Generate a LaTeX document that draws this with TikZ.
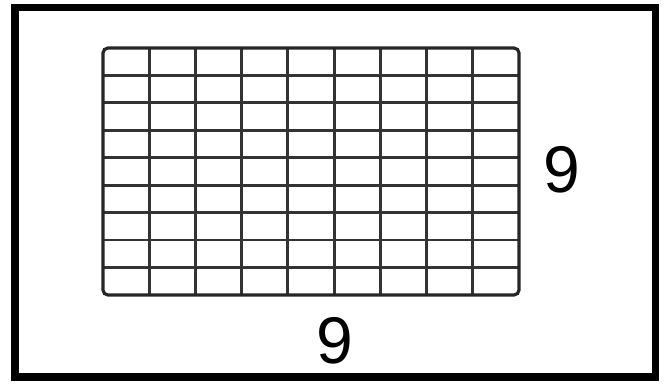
\documentclass[tikz,border=0pt]{standalone}
\usepackage{fontspec}
\setmainfont{Liberation Sans}
\usepackage{tikz}
\usetikzlibrary{positioning}

\begin{document}
\begin{tikzpicture}[x=1pt, y=-1pt, every node/.style={font=\fontsize{66}{66}\selectfont}]
  \useasboundingbox (0,0) rectangle (666,383);

  % Outer frame
  \draw[line width=7.5pt] (15,7.5) rectangle (655.5,377);

  % Grid of 9 by 9 cells
  \foreach \i in {1,...,8} {
    \draw[line width=2.8pt, black!80] ({103+\i*46.22},48) -- ({103+\i*46.22},295);
    \draw[line width=2.8pt, black!80] (103,{48+\i*27.44}) -- (519,{48+\i*27.44});
  }
  \draw[line width=3.2pt, black!85, rounded corners=5pt] (103,48) rectangle (519,295);

  % Side labels
  \node (rows) at (562,170) {9};
  \node (cols) at (335,341) {9};
\end{tikzpicture}
\end{document}
